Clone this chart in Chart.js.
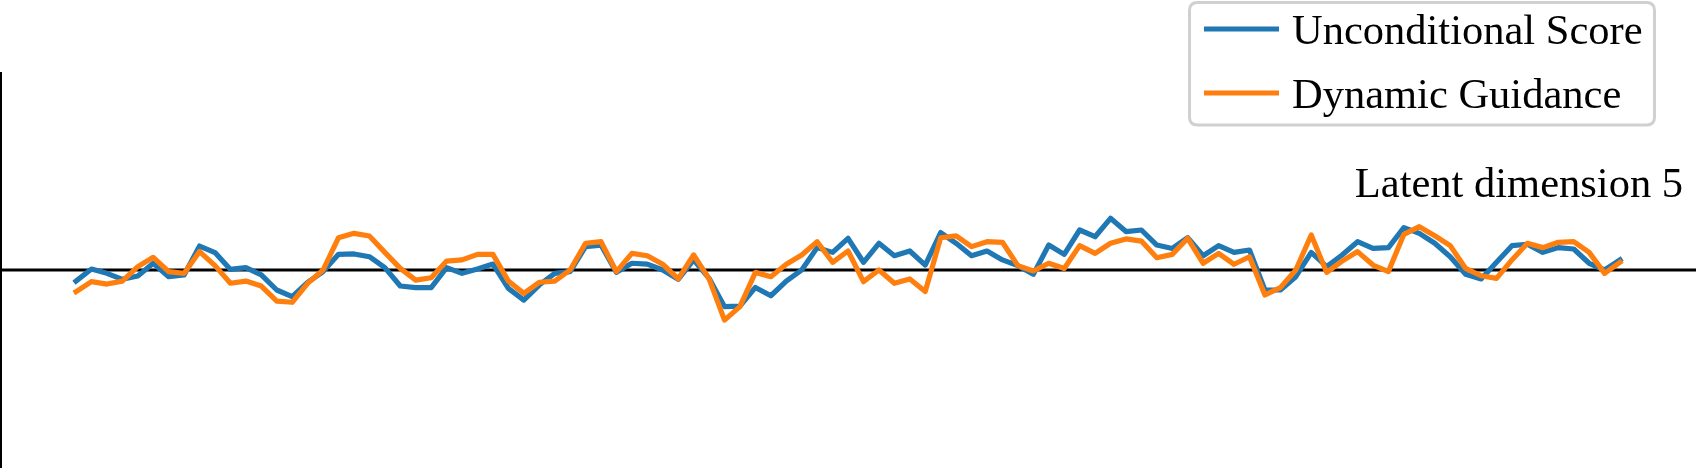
<!DOCTYPE html>
<html><head><meta charset="utf-8">
<script src="https://cdn.jsdelivr.net/npm/chart.js@4/dist/chart.umd.min.js"></script>
<style>html,body{margin:0;padding:0;background:#fff;overflow:hidden}canvas{display:block}</style>
</head><body>
<canvas id="c" width="1696" height="468"></canvas>
<script>
const seriesNames = ['Unconditional Score', 'Dynamic Guidance'];
const seriesColors = ['#1f77b4', '#ff7f0e'];
const panelTitle = 'Latent dimension 5';

const unconditional = [
 -0.056, 0.005, -0.017, -0.047, -0.030, 0.034, -0.034, -0.025, 0.121, 0.088,
  0.003, 0.012, -0.025, -0.101, -0.135, -0.062, -0.008, 0.079, 0.081, 0.067,
  0.012, -0.081, -0.089, -0.089, 0.012, -0.017, 0.005, 0.030, -0.093, -0.152,
 -0.076, -0.017, -0.008, 0.118, 0.126, -0.012, 0.034, 0.030, 0.000, -0.047,
  0.051, -0.042, -0.185, -0.182, -0.088, -0.130, -0.056, 0.000, 0.113, 0.089,
  0.160, 0.039, 0.135, 0.072, 0.096, 0.025, 0.189, 0.135, 0.072, 0.096,
  0.051, 0.022, -0.022, 0.126, 0.079, 0.202, 0.168, 0.261, 0.194, 0.202,
  0.126, 0.109, 0.163, 0.072, 0.123, 0.089, 0.101, -0.101, -0.101, -0.034,
  0.089, 0.017, 0.076, 0.143, 0.109, 0.113, 0.214, 0.185, 0.135, 0.067,
 -0.022, -0.045, 0.039, 0.123, 0.130, 0.089, 0.113, 0.106, 0.034, 0.000,
  0.051
];
const dynamicGuidance = [
 -0.109, -0.059, -0.071, -0.056, 0.017, 0.064, -0.008, -0.017, 0.093, 0.022,
 -0.067, -0.056, -0.081, -0.157, -0.163, -0.067, 0.000, 0.163, 0.185, 0.172,
  0.089, 0.008, -0.051, -0.039, 0.045, 0.051, 0.079, 0.079, -0.056, -0.118,
 -0.062, -0.056, 0.000, 0.135, 0.143, -0.008, 0.084, 0.072, 0.029, -0.045,
  0.076, -0.045, -0.253, -0.185, -0.012, -0.034, 0.029, 0.076, 0.143, 0.039,
  0.096, -0.059, 0.000, -0.067, -0.045, -0.109, 0.163, 0.172, 0.118, 0.143,
  0.140, 0.022, -0.005, 0.034, 0.008, 0.123, 0.084, 0.135, 0.157, 0.146,
  0.062, 0.079, 0.160, 0.034, 0.084, 0.029, 0.067, -0.126, -0.089, 0.000,
  0.177, -0.012, 0.045, 0.093, 0.025, -0.008, 0.180, 0.219, 0.173, 0.123,
  0.008, -0.029, -0.042, 0.051, 0.135, 0.113, 0.140, 0.143, 0.089, -0.017,
  0.039
];
const steps = unconditional.map((_, i) => i);

const toPoints = arr => arr.map((v, i) => ({ x: steps[i], y: v }));

const FONT = '"Liberation Serif", "Times New Roman", "DejaVu Serif", serif';

const decorPlugin = {
  id: 'decor',
  beforeDatasetsDraw(chart) {
    const { ctx, chartArea, scales } = chart;
    const y0 = scales.y.getPixelForValue(0);
    ctx.save();
    ctx.strokeStyle = '#000';
    ctx.lineWidth = 3.2;
    ctx.beginPath();
    ctx.moveTo(0, y0);
    ctx.lineTo(chart.width, y0);
    ctx.stroke();
    ctx.lineWidth = 2;
    ctx.beginPath();
    ctx.moveTo(chartArea.left, chartArea.top);
    ctx.lineTo(chartArea.left, chart.height);
    ctx.stroke();
    ctx.restore();
  },
  afterDraw(chart) {
    const ctx = chart.ctx;
    ctx.save();
    // panel title
    ctx.font = '42.5px ' + FONT;
    ctx.fillStyle = '#000';
    ctx.textAlign = 'right';
    ctx.textBaseline = 'alphabetic';
    ctx.fillText(panelTitle, 1683, 197);
    // legend frame
    const bx = 1189.5, by = 2.5, bw = 465, bh = 122.5, r = 8;
    ctx.beginPath();
    ctx.moveTo(bx + r, by);
    ctx.lineTo(bx + bw - r, by);
    ctx.quadraticCurveTo(bx + bw, by, bx + bw, by + r);
    ctx.lineTo(bx + bw, by + bh - r);
    ctx.quadraticCurveTo(bx + bw, by + bh, bx + bw - r, by + bh);
    ctx.lineTo(bx + r, by + bh);
    ctx.quadraticCurveTo(bx, by + bh, bx, by + bh - r);
    ctx.lineTo(bx, by + r);
    ctx.quadraticCurveTo(bx, by, bx + r, by);
    ctx.closePath();
    ctx.fillStyle = 'rgba(255,255,255,0.85)';
    ctx.fill();
    ctx.strokeStyle = '#d0d0d0';
    ctx.lineWidth = 3;
    ctx.stroke();
    // legend entries
    const rows = [29, 93];
    ctx.textAlign = 'left';
    ctx.font = '42.5px ' + FONT;
    seriesNames.forEach((name, k) => {
      ctx.strokeStyle = seriesColors[k];
      ctx.lineWidth = 5.2;
      ctx.lineCap = 'butt';
      ctx.beginPath();
      ctx.moveTo(1204, rows[k]);
      ctx.lineTo(1279, rows[k]);
      ctx.stroke();
      ctx.fillStyle = '#000';
      ctx.fillText(name, 1292, rows[k] + 14.5);
    });
    ctx.restore();
  }
};

new Chart(document.getElementById('c'), {
  type: 'line',
  data: {
    datasets: [
      { label: seriesNames[0], data: toPoints(unconditional), borderColor: seriesColors[0],
        borderWidth: 5.2, pointRadius: 0, fill: false, tension: 0, order: 2,
        borderJoinStyle: 'round', borderCapStyle: 'square' },
      { label: seriesNames[1], data: toPoints(dynamicGuidance), borderColor: seriesColors[1],
        borderWidth: 5.2, pointRadius: 0, fill: false, tension: 0, order: 1,
        borderJoinStyle: 'round', borderCapStyle: 'square' }
    ]
  },
  options: {
    responsive: false,
    animation: false,
    devicePixelRatio: 1,
    layout: { padding: { left: 1, top: 72, right: 0, bottom: 0 } },
    plugins: { legend: { display: false }, tooltip: { enabled: false }, title: { display: false } },
    scales: {
      x: { type: 'linear', display: false, min: -4.86, max: 104.92 },
      y: { display: false, min: -1, max: 1 }
    }
  },
  plugins: [decorPlugin]
});
</script>
</body></html>
